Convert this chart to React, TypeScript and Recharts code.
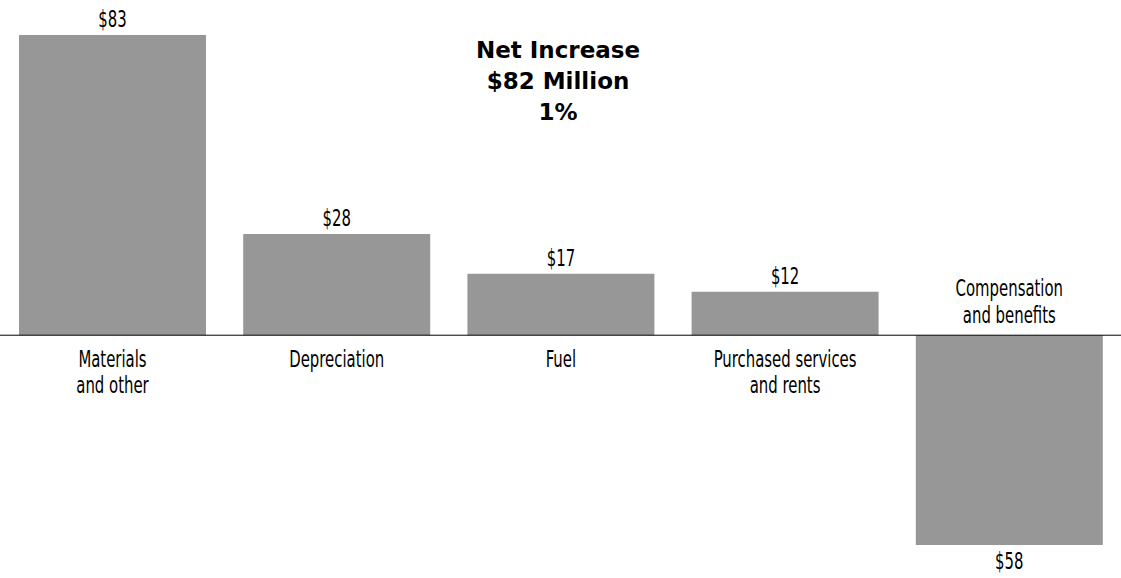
import { BarChart, Bar, XAxis, YAxis, ReferenceLine, LabelList } from 'recharts';

// expense changes, in millions of dollars
const categoryLines = [
  ['Materials', 'and other'],
  ['Depreciation'],
  ['Fuel'],
  ['Purchased services', 'and rents'],
  ['Compensation', 'and benefits'],
];
const changes = [83, 28, 17, 12, -58];
const titleLines = ['Net Increase', '$82 Million', '1%'];

const BAR_GRAY = '#979797';
const NARROW = "'DejaVu Sans Condensed', 'DejaVu Sans', sans-serif";

const chartData = changes.map((v, i) => ({ name: categoryLines[i].join(' '), value: v }));

// condensed text: tall glyphs squeezed horizontally
const Narrow = ({ x, y, children }: { x: number; y: number; children: any }) => (
  <text
    transform={`translate(${x},${y}) scale(0.72,1)`}
    textAnchor="middle"
    fill="#000"
    fontFamily={NARROW}
    fontSize={23}
  >
    {children}
  </text>
);

const renderLabels = (props: any) => {
  const { x, y, width, height, index } = props;
  const v = changes[index];
  const top = Math.min(y, y + height);
  const bottom = Math.max(y, y + height);
  const cx = x + width / 2;
  const lines = categoryLines[index];

  if (v >= 0) {
    return (
      <g>
        <Narrow x={cx} y={top - 8}>${v}</Narrow>
        {lines.map((l, i) => (
          <Narrow key={i} x={cx} y={bottom + 32 + i * 26}>{l}</Narrow>
        ))}
      </g>
    );
  }
  return (
    <g>
      <Narrow x={cx} y={bottom + 24}>${Math.abs(v)}</Narrow>
      {lines.map((l, i) => (
        <Narrow key={i} x={cx} y={top - 12 - (lines.length - 1 - i) * 27}>{l}</Narrow>
      ))}
    </g>
  );
};

export default function App() {
  return (
    <div style={{ position: 'absolute', left: 0, top: 0, width: 1121, height: 578, background: '#fff' }}>
      <BarChart
        width={1121}
        height={578}
        data={chartData}
        margin={{ top: 35, right: 0, bottom: 33, left: 0 }}
      >
        <XAxis dataKey="name" hide />
        <YAxis hide domain={[-58, 83]} />
        <Bar dataKey="value" fill={BAR_GRAY} barSize={187} isAnimationActive={false}>
          <LabelList dataKey="value" content={renderLabels} />
        </Bar>
        <ReferenceLine y={0} stroke="#000" strokeWidth={1} />
      </BarChart>
      <div
        style={{
          position: 'absolute',
          left: 458,
          top: 35,
          width: 200,
          textAlign: 'center',
          fontFamily: "'DejaVu Sans', sans-serif",
          fontWeight: 'bold',
          fontSize: 23,
          lineHeight: '31px',
          color: '#000',
        }}
      >
        {titleLines.map((t) => (
          <div key={t}>{t}</div>
        ))}
      </div>
    </div>
  );
}
